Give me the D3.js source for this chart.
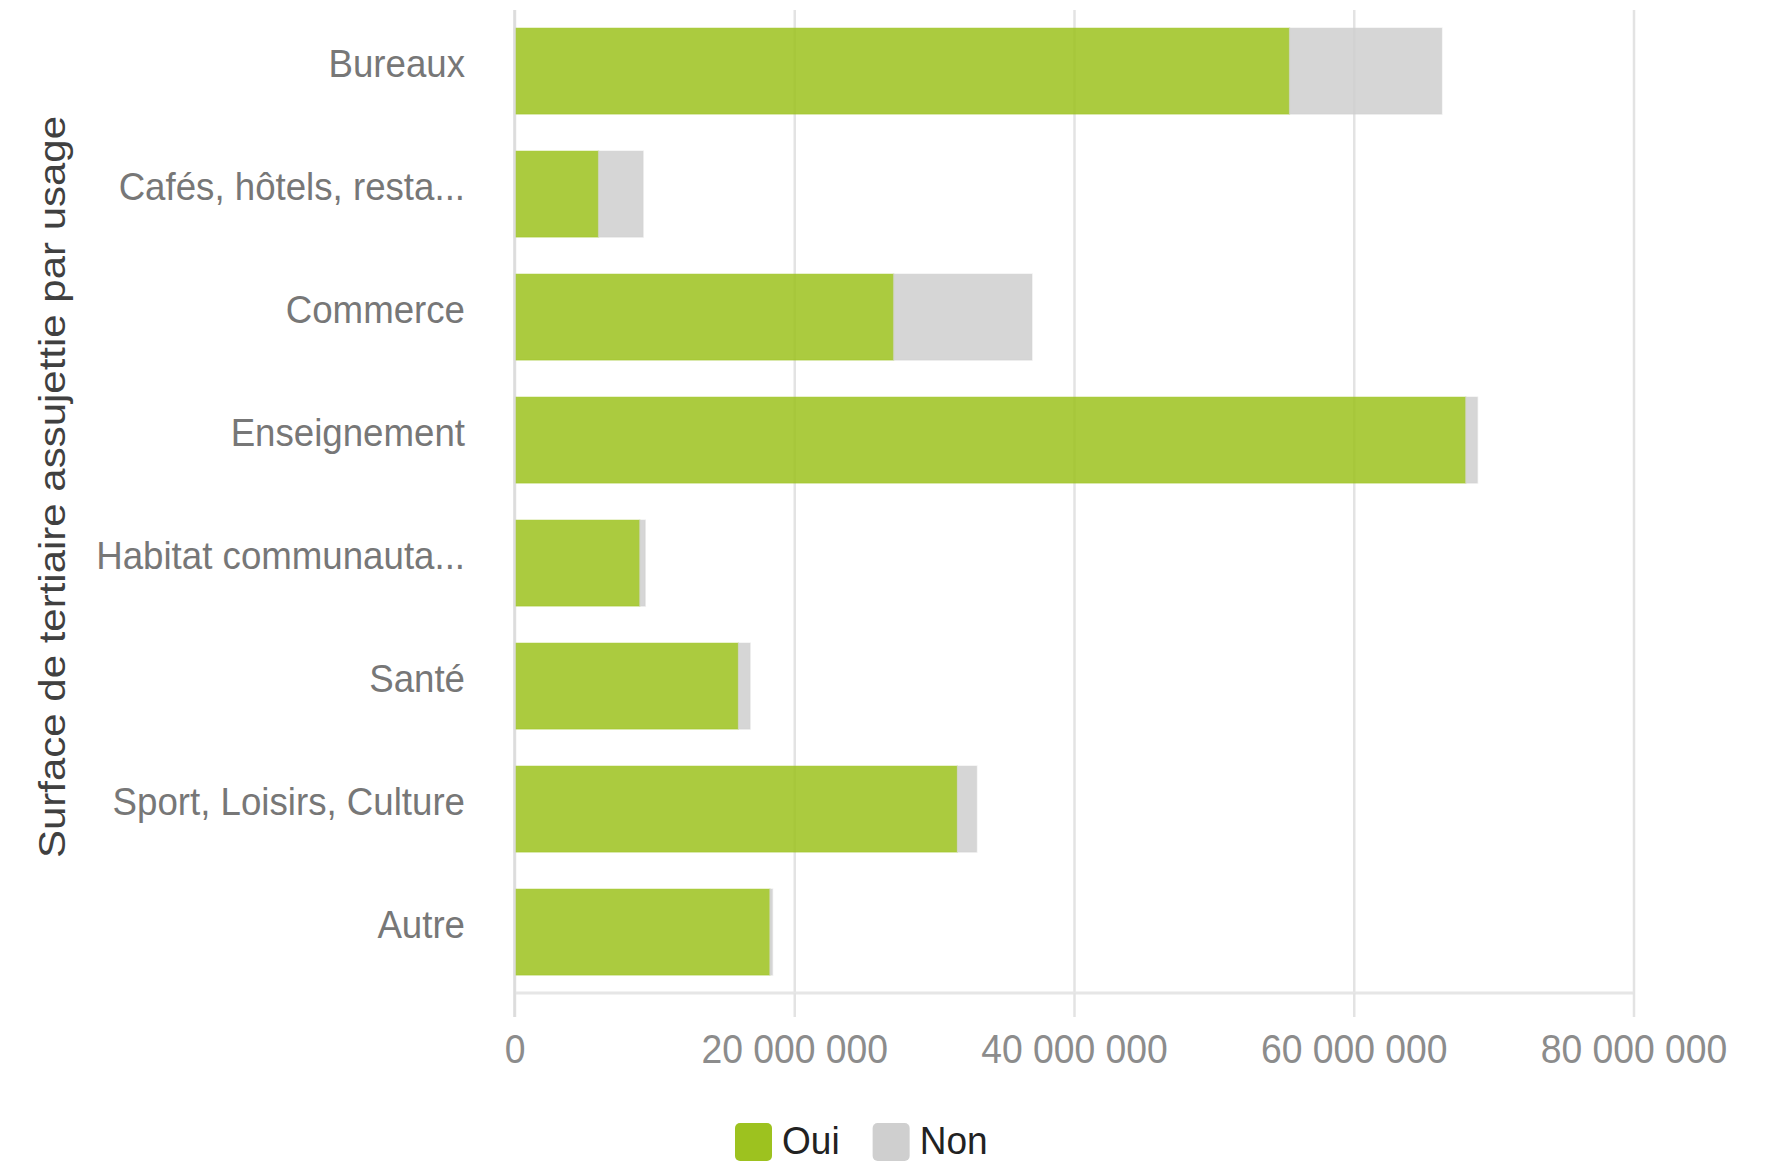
<!DOCTYPE html>
<html><head><meta charset="utf-8">
<script src="https://cdn.jsdelivr.net/npm/d3@7"></script>
<style>
body{margin:0;background:#fff}
svg{display:block}
text{font-family:"Liberation Sans",Arial,sans-serif}
</style>
</head><body>
<svg id="chart" width="1766" height="1163"></svg>
<script>
const categories = ["Bureaux","Cafés, hôtels, resta...","Commerce","Enseignement","Habitat communauta...","Santé","Sport, Loisirs, Culture","Autre"];
const seriesNames = ["Oui","Non"];
const ouiValues = [55400000, 6000000, 27100000, 68000000, 8950000, 16000000, 31650000, 18250000];
const nonValues = [10900000, 3200000, 9900000, 850000, 400000, 850000, 1400000, 200000];
const xTickValues = [0, 20000000, 40000000, 60000000, 80000000];
const seriesColors = ["#9dc21f", "#cfcfcf"];
const yTitle = "Surface de tertiaire assujettie par usage";

const svg = d3.select("#chart");
const x0 = 514.5, x1 = 1633.5, yTop = 9.6, yBottom = 993.6, axisY = 993;
const x = d3.scaleLinear().domain([0, 80000000]).range([x0, x1]);
const y = d3.scaleBand().domain(categories).range([yTop, yBottom]).paddingInner(0.3).paddingOuter(0.15);
const color = d3.scaleOrdinal().domain(seriesNames).range(seriesColors);
const loc = d3.formatLocale({decimal: ",", thousands: " ", grouping: [3], currency: ["", " €"]});
const fmt = loc.format(",");

// grid lines
const grid = svg.append("g").attr("transform", `translate(0,${axisY})`)
  .call(d3.axisBottom(x).tickValues(xTickValues).tickSize(-(axisY - 10)).tickFormat(""));
grid.select(".domain").remove();
grid.selectAll(".tick line").attr("stroke", "#e3e3e3").attr("stroke-width", 2.5);

// bars
const rows = categories.map((c, i) => ({cat: c, Oui: ouiValues[i], Non: nonValues[i]}));
const stacked = d3.stack().keys(seriesNames)(rows);
svg.append("g").selectAll("g").data(stacked).join("g")
  .attr("fill", d => color(d.key)).attr("stroke", d => color(d.key))
  .selectAll("rect").data(d => d).join("rect")
  .attr("x", d => x(d[0]))
  .attr("width", d => x(d[1]) - x(d[0]))
  .attr("y", d => y(d.data.cat))
  .attr("height", y.bandwidth())
  .attr("fill-opacity", 0.86)
  .attr("stroke-opacity", 0.3)
  .attr("stroke-width", 1.5);

// x axis
const xAxis = svg.append("g").attr("transform", `translate(0,${axisY})`)
  .call(d3.axisBottom(x).tickValues(xTickValues).tickSize(24).tickFormat(fmt));
xAxis.select(".domain").attr("stroke", "#e6e6e6").attr("stroke-width", 3)
  .attr("d", `M${x0},0H${x1}`);
xAxis.selectAll(".tick line").attr("stroke", "#e3e3e3").attr("stroke-width", 2.5);
xAxis.selectAll(".tick text")
  .attr("y", 70).attr("dy", 0)
  .attr("font-size", 41).attr("fill", "#8c8c8c")
  .attr("transform", "scale(0.91,1)");

// left axis line
svg.append("line").attr("x1", x0).attr("x2", x0).attr("y1", 10).attr("y2", axisY + 24)
  .attr("stroke", "#dcdcdc").attr("stroke-width", 2.5);

// y axis labels
const labelScale = 0.965;
const yAxis = svg.append("g").attr("transform", `translate(${x0},0)`)
  .call(d3.axisLeft(y).tickSize(0));
yAxis.select(".domain").remove();
yAxis.selectAll(".tick text")
  .attr("x", -49.5 / labelScale).attr("dy", "0.16em")
  .attr("font-size", 38).attr("fill", "#777777")
  .attr("transform", `scale(${labelScale},1)`);

// y title
svg.append("text")
  .attr("transform", "translate(65,487) scale(0.9,1) rotate(-90)")
  .attr("text-anchor", "middle")
  .attr("font-size", 42).attr("fill", "#404040")
  .text(yTitle);

// legend
const legend = svg.append("g");
let lx = 735;
seriesNames.forEach(name => {
  legend.append("rect").attr("x", lx).attr("y", 1123).attr("width", 37).attr("height", 38)
    .attr("rx", 5).attr("fill", color(name));
  const t = legend.append("text")
    .attr("transform", `translate(${lx + 47},1154) scale(0.95,1)`)
    .attr("font-size", 39).attr("fill", "#222")
    .text(name);
  lx = lx + 47 + t.node().getComputedTextLength() * 0.95 + 33;
});
</script>
</body></html>
